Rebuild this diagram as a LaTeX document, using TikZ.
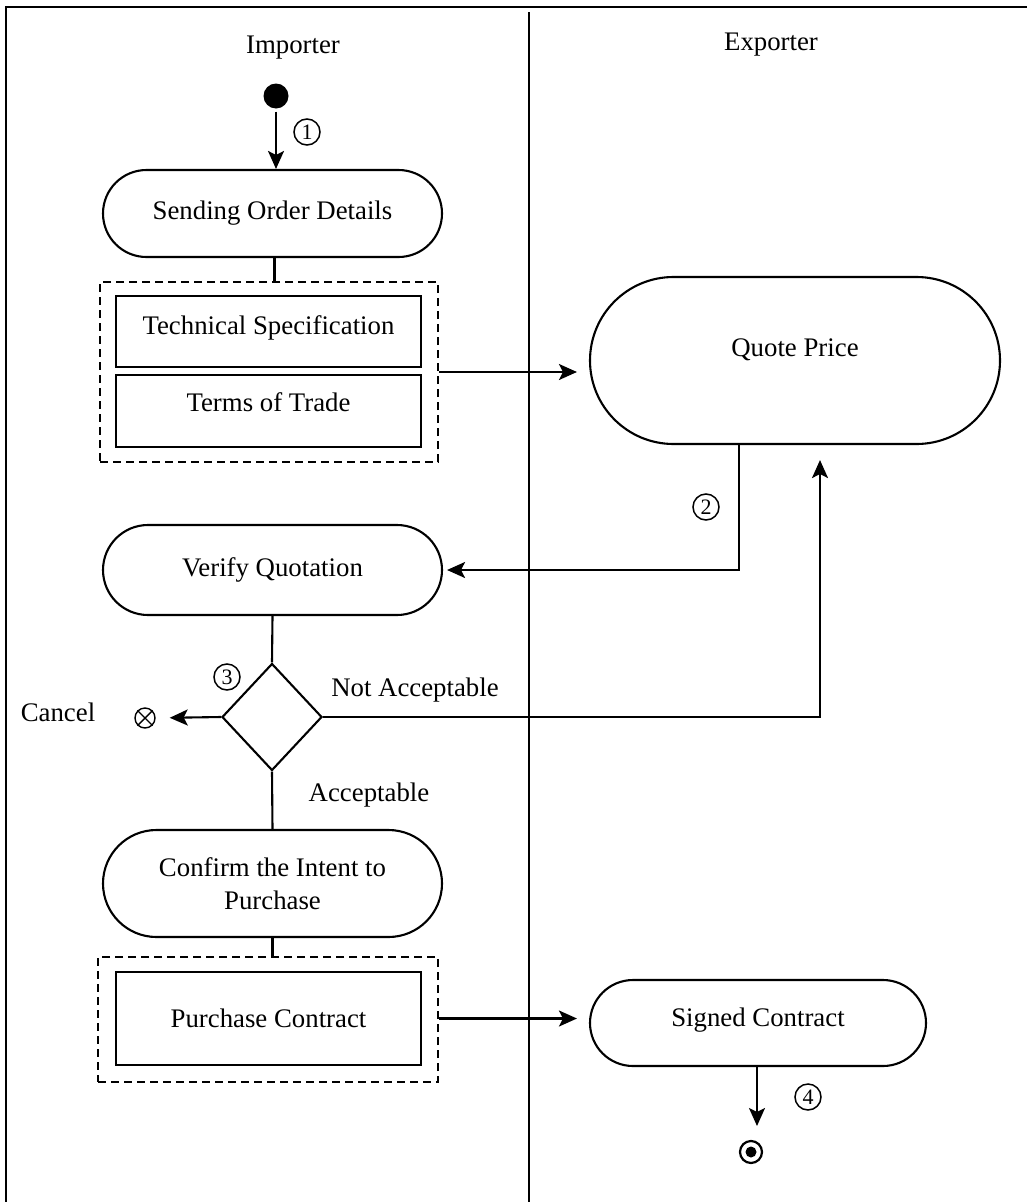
\documentclass[tikz,border=0pt]{standalone}
\usepackage{fontspec}
\setmainfont{Liberation Serif}
\usetikzlibrary{shapes.misc,shapes.geometric,arrows.meta}
\begin{document}
\begin{tikzpicture}[x=1pt,y=-1pt,
  font=\fontsize{26.8}{33}\selectfont,
  stadium/.style={rounded rectangle, draw, line width=2.1pt, inner sep=0pt},
  plainbox/.style={rectangle, draw, line width=2.1pt, inner sep=0pt},
  groupbox/.style={rectangle, draw, dash pattern=on 8pt off 5pt, line width=1.9pt, inner sep=0pt},
  decision/.style={diamond, draw, line width=2.1pt, inner sep=0pt, minimum width=100pt, minimum height=107pt},
  flow/.style={-{Stealth[length=18pt,width=16pt,inset=4pt]}, line width=2.1pt},
  link/.style={line width=2.1pt},
  circnum/.style={circle, draw, line width=1.5pt, inner sep=0pt, minimum size=26pt, font=\fontsize{22}{22}\selectfont},
  lane/.style={line width=2.5pt},
]
\useasboundingbox (0,0) rectangle (1027,1202);
% frame and lanes
\draw[lane] (6,1202) -- (6,7) -- (1027,7);
\draw[lane] (529,12) -- (529,1202);
\node (imp) at (293,48) {Importer};
\node (exp) at (771,45) {Exporter};

% start
\node[circle, fill, inner sep=0pt, minimum size=25pt] (start) at (276,96) {};
\node[stadium, minimum width=339pt, minimum height=87pt] (send) at (272.5,213.5) {Sending Order Details};
\draw[flow, shorten <=3pt] (start.south) -- (start.south |- send.north);
\node[circnum] (n1) at (307,132) {1};

% order details group
\node[groupbox, minimum width=338pt, minimum height=180pt] (g1) at (269,372) {};
\node[plainbox, minimum width=305pt, minimum height=71pt] (tech) at (268.5,331.5) {\raisebox{13pt}{Technical Specification}};
\node[plainbox, minimum width=305pt, minimum height=72pt] (terms) at (268.5,411) {\raisebox{17pt}{Terms of Trade}};
\draw[link] ([xshift=2pt]send.south) -- ([xshift=2pt]send.south |- g1.north);

% quote
\node[stadium, minimum width=410pt, minimum height=167pt] (quote) at (795,360.5) {\raisebox{25pt}{Quote Price}};
\draw[flow, shorten >=12pt] (g1.east) -- (g1.east -| quote.west);

% verify
\node[stadium, minimum width=339pt, minimum height=90pt] (verify) at (272.5,570) {Verify Quotation};
\draw[flow, shorten >=4pt] ([xshift=-56pt]quote.south) |- (verify.east);
\node[circnum] (n2) at (706,507) {2};

% decision
\node[decision] (dec) at (272,717) {};
\draw[link] (verify.south) -- (dec.north);
\node[circnum] (n3) at (227,677) {3};
\draw[flow, shorten >=15pt] (dec.east) -| ([xshift=25pt]quote.south);
\node (na) at (415,690) {Not Acceptable};
\node[circle, draw, line width=1.4pt, inner sep=0pt, minimum size=20pt] (cx) at (145,718) {};
\draw[line width=1.4pt] (cx.north west) -- (cx.south east) (cx.north east) -- (cx.south west);
\node (cancel) at (58,712) {Cancel};
\draw[flow, shorten >=14pt] (dec.west) -- (cx.east);
\node (acc) at (369,795) {Acceptable};

% confirm
\node[stadium, minimum width=339pt, minimum height=107pt, align=center] (conf) at (272.5,883.5) {Confirm the Intent to\\Purchase};
\draw[link] (dec.south) -- (conf.north);

% purchase contract group
\node[groupbox, minimum width=340pt, minimum height=125pt] (g2) at (268,1019.5) {};
\node[plainbox, minimum width=305pt, minimum height=93pt] (pc) at (268.5,1018.5) {Purchase Contract};
\draw[link] (conf.south) -- (conf.south |- g2.north);

% signed contract
\node[stadium, minimum width=336pt, minimum height=86pt] (signed) at (758,1023) {\raisebox{11pt}{Signed Contract}};
\draw[flow, shorten >=12pt] ([yshift=1pt]g2.east) -- ([yshift=1pt]g2.east -| signed.west);
\coordinate (ftip) at (757,1126);
\draw[flow] (signed.south -| ftip) -- (ftip);
\node[circnum] (n4) at (808,1097) {4};

% end
\node[circle, draw, line width=2.2pt, inner sep=0pt, minimum size=22pt] (endn) at (751,1152) {};
\fill (endn.center) circle (5.5pt);
\end{tikzpicture}
\end{document}
